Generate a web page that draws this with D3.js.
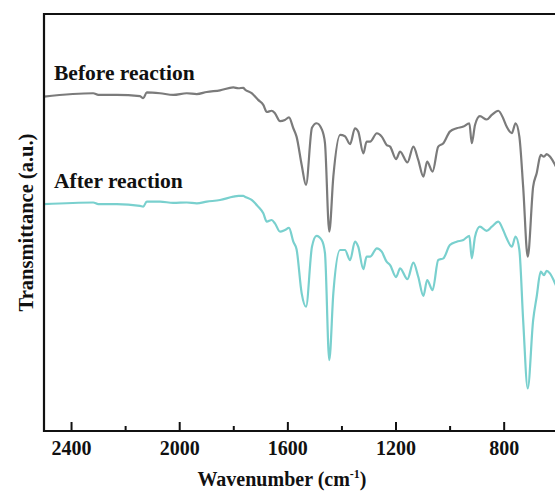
<!DOCTYPE html>
<html>
<head>
<meta charset="utf-8">
<script src="https://cdn.jsdelivr.net/npm/d3@7"></script>
<style>
  html, body { margin: 0; padding: 0; background: #fff; }
  svg { display: block; }
  text { font-family: "Liberation Serif", "Times New Roman", serif; font-weight: bold; fill: #111; }
</style>
</head>
<body>
<svg id="chart" width="555" height="495"></svg>
<script>
// FTIR spectra (wavenumber in cm^-1, transmittance in arbitrary units)
const wavenumbers = [2500, 2318, 2299, 2231, 2145, 2133, 2120, 2071, 2022, 1972, 1935, 1898, 1849, 1800, 1781, 1763, 1757, 1732, 1708, 1689, 1676, 1658, 1646, 1627, 1609, 1594, 1578, 1566, 1547, 1531, 1509, 1492, 1473, 1461, 1445, 1430, 1405, 1387, 1368, 1350, 1338, 1319, 1307, 1294, 1269, 1251, 1233, 1220, 1198, 1183, 1156, 1134, 1116, 1097, 1083, 1063, 1042, 1023, 999, 974, 949, 927, 918, 906, 888, 863, 844, 820, 802, 789, 770, 756, 742, 728, 711, 691, 678, 663, 651, 641, 629, 610, 600];

const beforeReaction = [80.2, 81.0, 80.6, 80.6, 80.3, 79.8, 81.2, 81.0, 80.6, 81.0, 80.8, 81.3, 81.7, 82.4, 82.2, 82.3, 81.9, 81.0, 79.4, 78.2, 76.5, 76.8, 76.2, 74.3, 74.6, 75.2, 72.6, 70.6, 63.8, 59.0, 72.7, 73.8, 72.4, 69.1, 47.8, 61.0, 71.0, 70.7, 68.8, 72.6, 71.8, 66.6, 69.4, 69.4, 71.4, 70.6, 68.6, 68.2, 65.2, 67.0, 64.4, 68.2, 65.0, 61.0, 64.6, 62.2, 68.2, 69.0, 71.8, 72.6, 73.0, 73.8, 69.0, 73.4, 75.5, 74.7, 75.8, 76.8, 75.0, 73.0, 71.4, 73.8, 70.6, 58.6, 41.8, 58.6, 61.8, 66.2, 65.8, 66.4, 65.8, 63.8, 62.6];

const afterReaction = [54.4, 54.8, 54.4, 54.4, 54.0, 53.8, 55.0, 55.0, 54.7, 54.8, 54.6, 55.0, 55.4, 56.2, 56.4, 56.4, 56.2, 55.4, 53.8, 52.2, 50.2, 50.6, 49.8, 47.8, 48.2, 48.7, 45.4, 43.6, 33.0, 29.8, 44.2, 46.8, 45.8, 42.7, 17.0, 33.0, 43.4, 43.4, 41.0, 45.4, 44.2, 38.8, 41.8, 41.8, 43.8, 43.0, 40.6, 39.8, 36.9, 39.0, 36.4, 40.4, 37.0, 32.4, 36.2, 33.8, 41.0, 41.4, 44.6, 45.4, 45.8, 46.8, 41.4, 46.6, 49.0, 48.0, 49.0, 50.2, 48.2, 46.2, 44.2, 46.6, 43.4, 26.6, 10.2, 26.6, 32.2, 38.2, 37.4, 38.4, 37.8, 35.4, 33.8];

const seriesNames = ["Before reaction", "After reaction"];
const seriesColors = ["#7b7b7b", "#79d0ce"];
const majorTicks = [2400, 2000, 1600, 1200, 800];
const minorTicks = [2200, 1800, 1400, 1000];

const svg = d3.select("#chart");
const plot = { left: 44, top: 14, right: 555, bottom: 431 };

const x = d3.scaleLinear().domain([2500, 600]).range([plot.left, plot.left + 1900 * 0.2704]);
const y = d3.scaleLinear().domain([0, 100]).range([plot.bottom, plot.top]);

svg.append("defs").append("clipPath").attr("id", "plot-clip")
  .append("rect")
  .attr("x", plot.left).attr("y", plot.top)
  .attr("width", plot.right - plot.left).attr("height", plot.bottom - plot.top);

const line = d3.line()
  .x(d => x(d[0]))
  .y(d => y(d[1]))
  .curve(d3.curveMonotoneX);

const series = [beforeReaction, afterReaction];
const curves = svg.append("g").attr("clip-path", "url(#plot-clip)");
series.forEach((vals, i) => {
  curves.append("path")
    .datum(wavenumbers.map((w, j) => [w, vals[j]]))
    .attr("fill", "none")
    .attr("stroke", seriesColors[i])
    .attr("stroke-width", 2.2)
    .attr("stroke-linejoin", "round")
    .attr("d", line);
});

// series labels
const labelPos = [[54, 80], [54, 188]];
seriesNames.forEach((name, i) => {
  svg.append("text")
    .attr("x", labelPos[i][0]).attr("y", labelPos[i][1])
    .attr("font-size", 21.5)
    .text(name);
});

// bottom axis: inward ticks
const xAxis = d3.axisBottom(x).tickValues(majorTicks).tickFormat(d3.format("d"))
  .tickSizeInner(-9).tickSizeOuter(0);
const gx = svg.append("g").attr("transform", `translate(0,${plot.bottom})`).call(xAxis);
gx.select(".domain").remove();
gx.selectAll(".tick line").attr("stroke", "#111").attr("stroke-width", 2);
gx.selectAll(".tick text")
  .attr("font-family", "Liberation Serif, Times New Roman, serif")
  .attr("font-weight", "bold")
  .attr("font-size", 20)
  .attr("fill", "#111")
  .attr("dy", null)
  .attr("y", 24);

const xMinor = d3.axisBottom(x).tickValues(minorTicks).tickSizeInner(-5).tickSizeOuter(0).tickFormat("");
const gm = svg.append("g").attr("transform", `translate(0,${plot.bottom})`).call(xMinor);
gm.select(".domain").remove();
gm.selectAll(".tick line").attr("stroke", "#111").attr("stroke-width", 2);

// frame: left, bottom, top
const frame = svg.append("g").attr("stroke", "#111").attr("stroke-width", 2.2).attr("fill", "none");
frame.append("line").attr("x1", plot.left).attr("x2", plot.left).attr("y1", plot.top - 1).attr("y2", plot.bottom + 1);
frame.append("line").attr("x1", plot.left - 1).attr("x2", plot.right).attr("y1", plot.bottom).attr("y2", plot.bottom);
frame.append("line").attr("x1", plot.left - 1).attr("x2", plot.right).attr("y1", plot.top).attr("y2", plot.top);

// axis titles
const xt = svg.append("text")
  .attr("x", 282).attr("y", 486)
  .attr("text-anchor", "middle")
  .attr("font-size", 20);
xt.append("tspan").text("Wavenumber (cm");
xt.append("tspan").attr("font-size", 12).attr("dy", -8).text("-1");
xt.append("tspan").attr("dy", 8).text(")");

svg.append("text")
  .attr("transform", `translate(33,${(plot.top + plot.bottom) / 2}) rotate(-90)`)
  .attr("text-anchor", "middle")
  .attr("font-size", 20.5)
  .text("Transmittance (a.u.)");
</script>
</body>
</html>
